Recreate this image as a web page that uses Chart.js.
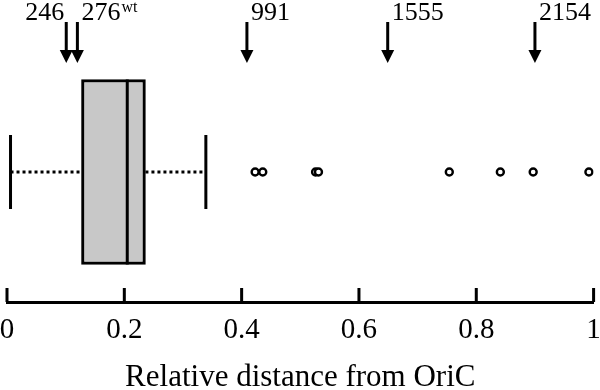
<!DOCTYPE html>
<html>
<head>
<meta charset="utf-8">
<script src="https://cdn.jsdelivr.net/npm/chart.js@4/dist/chart.umd.min.js"></script>
<style>
    html, body { margin: 0; padding: 0; background: #fff; }
    #wrap { width: 600px; height: 390px; }
</style>
</head>
<body>
<div id="wrap"><canvas id="boxChart"></canvas></div>
<script>
// box plot summary (relative distance from OriC)
const whiskerLow = 0.006;
const quartile1 = 0.127;
const median = 0.205;
const quartile3 = 0.236;
const whiskerHigh = 0.339;
const outliers = [0.423, 0.436, 0.526, 0.531, 0.754, 0.841, 0.897, 0.992];

// arrows along the top
const arrowValues = [0.101, 0.120, 0.409, 0.649, 0.900];
const arrowLabels = ['246', '276', '991', '1555', '2154'];
const arrowSuffix = ['', 'wt', '', '', ''];

const xTicks = [0, 0.2, 0.4, 0.6, 0.8, 1];

const SERIF = '"Liberation Serif", "Times New Roman", serif';

const boxExtras = {
    id: 'boxExtras',
    afterDatasetsDraw(chart) {
        const ctx = chart.ctx;
        const xs = chart.scales.x;
        const bar = chart.getDatasetMeta(0).data[0];
        const cy = bar.y;
        const half = bar.height / 2;
        const capHalf = 37;

        ctx.save();
        ctx.strokeStyle = '#000';
        ctx.lineCap = 'butt';

        // dotted whiskers
        ctx.lineWidth = 3;
        ctx.setLineDash([3, 3]);
        ctx.beginPath();
        ctx.moveTo(xs.getPixelForValue(whiskerLow), cy);
        ctx.lineTo(xs.getPixelForValue(quartile1), cy);
        ctx.moveTo(xs.getPixelForValue(quartile3), cy);
        ctx.lineTo(xs.getPixelForValue(whiskerHigh), cy);
        ctx.stroke();
        ctx.setLineDash([]);

        // caps + median
        ctx.beginPath();
        [whiskerLow, whiskerHigh].forEach(v => {
            const px = xs.getPixelForValue(v);
            ctx.moveTo(px, cy - capHalf);
            ctx.lineTo(px, cy + capHalf);
        });
        const mx = xs.getPixelForValue(median);
        ctx.moveTo(mx, cy - half);
        ctx.lineTo(mx, cy + half);
        ctx.stroke();

        // tick marks pointing up from the axis
        const axisY = chart.chartArea.bottom;
        ctx.lineWidth = 3;
        ctx.beginPath();
        xTicks.forEach(v => {
            const px = xs.getPixelForValue(v);
            ctx.moveTo(px, axisY);
            ctx.lineTo(px, axisY - 14);
        });
        ctx.stroke();

        // arrows with labels
        ctx.fillStyle = '#000';
        arrowValues.forEach((v, i) => {
            const px = xs.getPixelForValue(v);
            ctx.lineWidth = 3;
            ctx.beginPath();
            ctx.moveTo(px, 22);
            ctx.lineTo(px, 52);
            ctx.stroke();
            ctx.beginPath();
            ctx.moveTo(px - 6.5, 50);
            ctx.lineTo(px + 6.5, 50);
            ctx.lineTo(px, 63);
            ctx.closePath();
            ctx.fill();

            ctx.font = '26px ' + SERIF;
            ctx.textBaseline = 'alphabetic';
            if (i === 0) {
                ctx.textAlign = 'right';
                ctx.fillText(arrowLabels[i], px - 2, 20);
            } else {
                ctx.textAlign = 'left';
                ctx.fillText(arrowLabels[i], px + 4, 20);
                if (arrowSuffix[i]) {
                    const w = ctx.measureText(arrowLabels[i]).width;
                    ctx.font = '16px ' + SERIF;
                    ctx.fillText(arrowSuffix[i], px + 5 + w, 12);
                }
            }
        });
        ctx.restore();
    }
};

new Chart(document.getElementById('boxChart'), {
    type: 'bar',
    data: {
        labels: ['box'],
        datasets: [{
            label: 'IQR',
            data: [[quartile1, quartile3]],
            backgroundColor: '#c8c8c8',
            borderColor: '#000',
            borderWidth: 3,
            borderSkipped: false,
            barThickness: 185
        }, {
            type: 'scatter',
            label: 'outliers',
            data: outliers.map(v => ({ x: v, y: 'box' })),
            pointRadius: 3.5,
            pointBorderWidth: 2.4,
            pointBackgroundColor: '#fff',
            pointBorderColor: '#000'
        }]
    },
    options: {
        indexAxis: 'y',
        responsive: true,
        maintainAspectRatio: false,
        animation: false,
        layout: { padding: { top: 42, left: 0, right: 0, bottom: 0 } },
        plugins: {
            legend: { display: false },
            tooltip: { enabled: false }
        },
        scales: {
            y: {
                type: 'category',
                display: false
            },
            x: {
                type: 'linear',
                min: 0,
                max: 1,
                border: { display: true, color: '#000', width: 3 },
                grid: { display: false, drawTicks: false },
                afterFit: scale => {
                    scale.paddingLeft = 7;
                    scale.paddingRight = 5;
                },
                ticks: {
                    stepSize: 0.2,
                    color: '#000',
                    padding: 14,
                    maxRotation: 0,
                    font: { family: SERIF, size: 29, lineHeight: 1 },
                    callback: v => String(Math.round(v * 10) / 10)
                },
                title: {
                    display: true,
                    text: 'Relative distance from OriC',
                    color: '#000',
                    padding: { top: 3, bottom: -3 },
                    font: { family: SERIF, size: 31, lineHeight: 1 }
                }
            }
        }
    },
    plugins: [boxExtras]
});
</script>
</body>
</html>
